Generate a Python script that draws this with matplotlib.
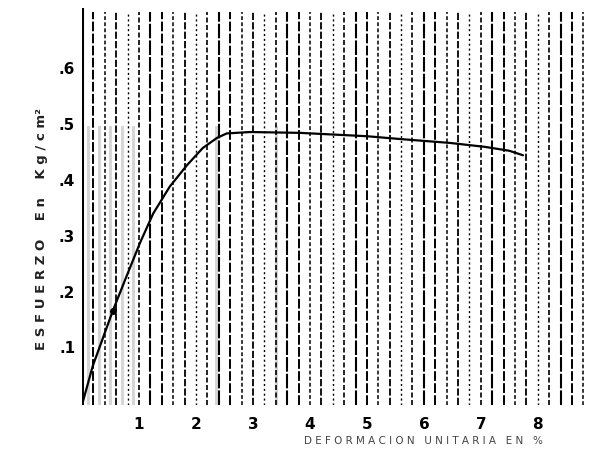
import matplotlib
matplotlib.use("Agg")
import matplotlib.pyplot as plt
import numpy as np

# Stress-strain curve (strain in %, stress in kg/cm2)
strain = [0.0, 0.19, 0.54, 0.79, 1.02, 1.25, 1.54, 1.84, 2.12, 2.37, 2.54, 2.95,
          3.82, 5.0, 5.58, 6.46, 7.07, 7.5, 7.74]
stress = [0.0, 0.07, 0.168, 0.232, 0.29, 0.342, 0.39, 0.428, 0.459, 0.477, 0.485, 0.4875,
          0.486, 0.48, 0.475, 0.468, 0.461, 0.454, 0.446]

x_ticks = [1, 2, 3, 4, 5, 6, 7, 8]
x_tick_labels = ["1", "2", "3", "4", "5", "6", "7", "8"]
y_ticks = [0.1, 0.2, 0.3, 0.4, 0.5, 0.6]
y_tick_labels = [".1", ".2", ".3", ".4", ".5", ".6"]

grid_step = 0.2
x_max = 8.95
y_max = 0.709

fig = plt.figure(figsize=(5.92, 4.57), dpi=100)
ax = fig.add_axes([0.1385, 0.1138, 0.8615, 0.8687])
ax.set_xlim(0, x_max)
ax.set_ylim(0, y_max)

# Vertical ruling of the graph paper
styles = [(0, (5, 1.2)), (0, (2.5, 1.5)), (0, (4, 1.2)), (0, (1.5, 2)), (0, (3, 1.5)), (0, (7, 1))]
widths = [1.4, 1.1, 1.3, 1.0, 1.2, 1.5]
gx = np.arange(grid_step, x_max, grid_step)
for i, x in enumerate(gx):
    ax.axvline(x, ymin=0, ymax=0.99, color="black",
               linestyle=styles[i % len(styles)], linewidth=widths[i % len(widths)])

# Faint grey bands near the origin
for x in [0.1, 0.3, 0.5, 0.7, 0.9, 2.35, 3.4]:
    ax.axvline(x, ymin=0, ymax=0.7, color="#bbbbbb", linewidth=2.2, alpha=0.6, zorder=0)

ax.axvline(0, color="black", linewidth=2.2)

ax.plot(strain, stress, color="black", linewidth=1.6, zorder=5,
        solid_joinstyle="round", solid_capstyle="round")
ax.plot([strain[2]], [stress[2]], "o", color="black", markersize=4, zorder=6)

for s in ax.spines.values():
    s.set_visible(False)
ax.set_xticks([])
ax.set_yticks([])

hand = dict(family="DejaVu Sans", fontweight="bold", color="black")
for xt, lab in zip(x_ticks, x_tick_labels):
    ax.text(xt, -0.021, lab, ha="center", va="top", fontsize=11, **hand)
for yt, lab in zip(y_ticks, y_tick_labels):
    ax.text(-0.12, yt, lab, ha="right", va="center", fontsize=11, **hand)

fig.text(0.070, 0.50, "E S F U E R Z O    E n    K g / c m²", rotation=90,
         ha="center", va="center", fontsize=9.5, color="#222222", fontweight="bold")
fig.text(0.715, 0.034, "D E F O R M A C I O N   U N I T A R I A   E N   %",
         ha="center", va="center", fontsize=7.5, color="#444444")

fig.savefig("out.png", dpi=100)
